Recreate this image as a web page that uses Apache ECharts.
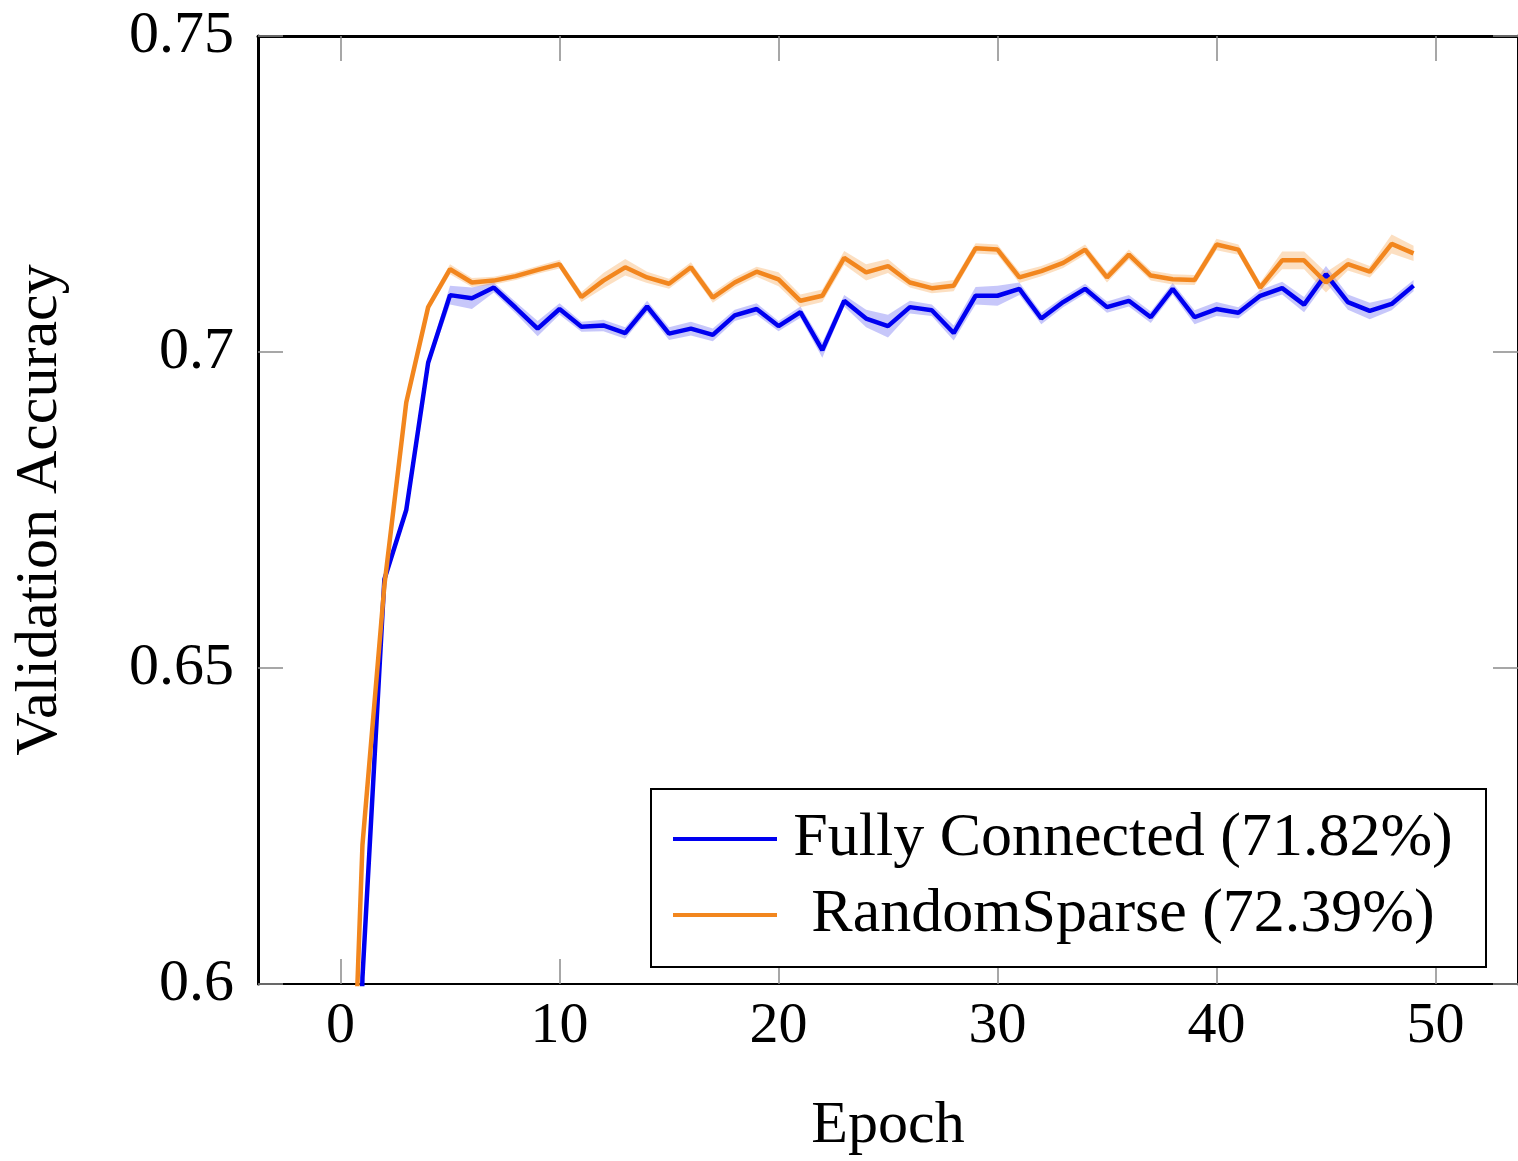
<!DOCTYPE html>
<html>
<head>
<meta charset="utf-8">
<script src="https://cdn.jsdelivr.net/npm/echarts@6/dist/echarts.min.js"></script>
<style>
html,body{margin:0;padding:0;background:#fff;}
#chart{width:1518px;height:1161px;}
</style>
</head>
<body>
<div id="chart"></div>
<script>
var epochs = [0,1,2,3,4,5,6,7,8,9,10,11,12,13,14,15,16,17,18,19,20,21,22,23,24,25,26,27,28,29,30,31,32,33,34,35,36,37,38,39,40,41,42,43,44,45,46,47,48,49];
var fullyConnected = [0.45,0.601,0.664,0.675,0.6983,0.709,0.7085,0.7102,0.7070,0.7037,0.7068,0.7040,0.7042,0.7030,0.7072,0.7029,0.7037,0.7027,0.7058,0.7068,0.7041,0.7063,0.7003,0.7081,0.7053,0.7041,0.7071,0.7066,0.7030,0.7089,0.7089,0.7100,0.7053,0.7079,0.7100,0.7071,0.7081,0.7055,0.7100,0.7055,0.7068,0.7062,0.7089,0.7101,0.7075,0.7123,0.7079,0.7065,0.7076,0.7105];
var fullyConnectedStd = [0.001,0.001,0.001,0.0008,0.0008,0.0015,0.0017,0.0008,0.0009,0.0012,0.0009,0.0008,0.0009,0.0009,0.0009,0.0010,0.0011,0.0010,0.0009,0.0009,0.0008,0.0009,0.0012,0.0009,0.0014,0.0018,0.0010,0.0009,0.0012,0.0014,0.0016,0.0010,0.0009,0.0008,0.0008,0.0009,0.0009,0.0009,0.0009,0.0011,0.0011,0.0009,0.0009,0.0010,0.0012,0.0013,0.0012,0.0013,0.0010,0.0009];
var randomSparse = [0.526,0.622,0.663,0.692,0.7071,0.7131,0.7110,0.7113,0.7120,0.7130,0.7139,0.7087,0.7113,0.7134,0.7118,0.7108,0.7134,0.7086,0.7110,0.7127,0.7115,0.7081,0.7089,0.7149,0.7126,0.7136,0.7110,0.7101,0.7105,0.7164,0.7162,0.7118,0.7128,0.7141,0.7162,0.7118,0.7154,0.7121,0.7115,0.7114,0.7170,0.7162,0.7102,0.7145,0.7145,0.7110,0.7139,0.7127,0.7171,0.7156];
var randomSparseStd = [0.0008,0.0008,0.0008,0.0007,0.0007,0.0008,0.0007,0.0006,0.0006,0.0006,0.0007,0.0008,0.0012,0.0013,0.0009,0.0008,0.0008,0.0008,0.0008,0.0008,0.0011,0.0010,0.0010,0.0011,0.0013,0.0011,0.0008,0.0008,0.0009,0.0008,0.0008,0.0009,0.0008,0.0008,0.0008,0.0008,0.0008,0.0008,0.0008,0.0008,0.0009,0.0008,0.0008,0.0014,0.0014,0.0016,0.0010,0.0009,0.0015,0.0012];
var seriesNames = ['Fully Connected (71.82%)', 'RandomSparse (72.39%)'];
var xTicks = [0,10,20,30,40,50];
var yTicks = [0.6,0.65,0.7,0.75];
var yTickLabels = ['0.6','0.65','0.7','0.75'];

var FONT = 'Liberation Serif';
var BLUE = '#0000f0';
var ORANGE = '#f2861e';

function pairs(vals){ return epochs.map(function(e,i){ return [e, vals[i]]; }); }

function band(vals, sd, color){
  return {
    type:'custom', xAxisIndex:0, yAxisIndex:0, data:pairs(vals), silent:true, z:1, clip:true,
    renderItem:function(params, api){
      if (params.dataIndex !== 0) return;
      var pts = [];
      for (var i = 0; i < epochs.length; i++) pts.push(api.coord([epochs[i], vals[i] + sd[i]]));
      for (var j = epochs.length - 1; j >= 0; j--) pts.push(api.coord([epochs[j], vals[j] - sd[j]]));
      var cs = params.coordSys;
      return {
        type:'polygon', shape:{points:pts}, style:{fill:color},
        clipPath:{type:'rect', shape:{x:cs.x, y:cs.y, width:cs.width, height:cs.height}}
      };
    }
  };
}

var tickStyle = {show:true, inside:true, length:25, lineStyle:{color:'#8a8a8a', width:1.5}};

var chart = echarts.init(document.getElementById('chart'), null, {renderer:'canvas'});
var option = {
  backgroundColor:'#fff',
  animation:false,
  grid:{left:258, top:36, width:1265, height:958, containLabel:false},
  xAxis:[
    {type:'value', position:'bottom', min:-3.77, max:53.77,
     axisLine:{show:true, onZero:false, lineStyle:{color:'#000', width:2}},
     axisTick:Object.assign({customValues:xTicks}, tickStyle),
     axisLabel:{customValues:xTicks, margin:14, fontFamily:FONT, fontSize:58, color:'#000'},
     splitLine:{show:false},
     name:'Epoch', nameLocation:'middle', nameGap:112,
     nameTextStyle:{fontFamily:FONT, fontSize:60, color:'#000'}},
    {type:'value', position:'top', min:-3.77, max:53.77,
     axisLine:{show:true, onZero:false, lineStyle:{color:'#000', width:3}},
     axisTick:Object.assign({customValues:xTicks}, tickStyle),
     axisLabel:{show:false}, splitLine:{show:false}}
  ],
  yAxis:[
    {type:'value', position:'left', min:0.6, max:0.75,
     axisLine:{show:true, onZero:false, lineStyle:{color:'#000', width:3}},
     axisTick:Object.assign({customValues:yTicks}, tickStyle),
     axisLabel:{customValues:yTicks, margin:24, fontFamily:FONT, fontSize:60, color:'#000',
       formatter:function(v){ var i = yTicks.findIndex(function(t){return Math.abs(t-v)<1e-6;}); return i>=0 ? yTickLabels[i] : ''; }},
     splitLine:{show:false},
     name:'Validation Accuracy', nameLocation:'middle', nameGap:188, nameRotate:90,
     nameTextStyle:{fontFamily:FONT, fontSize:60, color:'#000'}},
    {type:'value', position:'right', min:0.6, max:0.75,
     axisLine:{show:true, onZero:false, lineStyle:{color:'#000', width:3}},
     axisTick:Object.assign({customValues:yTicks}, tickStyle),
     axisLabel:{show:false}, splitLine:{show:false}}
  ],
  legend:{
    data:seriesNames, left:651, top:789, orient:'vertical', selectedMode:false,
    backgroundColor:'#fff', borderColor:'#000', borderWidth:2, borderRadius:0,
    padding:[19,22,21,22], itemGap:14, itemWidth:104, itemHeight:4, itemTextGap:10,
    icon:'rect',
    formatter:function(n){ return '{n|' + n + '}'; },
    textStyle:{fontFamily:FONT, fontSize:62, color:'#000', lineHeight:60,
      rich:{n:{fontFamily:FONT, fontSize:62, color:'#000', width:682, align:'center', lineHeight:60}}}
  },
  series: [
    band(fullyConnected, fullyConnectedStd, 'rgba(70,70,240,0.3)'),
    band(randomSparse, randomSparseStd, 'rgba(245,150,50,0.3)'),
    {name:seriesNames[0], type:'line', data:pairs(fullyConnected), symbol:'none',
     lineStyle:{color:BLUE, width:4.5}, itemStyle:{color:BLUE}, z:3},
    {name:seriesNames[1], type:'line', data:pairs(randomSparse), symbol:'none',
     lineStyle:{color:ORANGE, width:4.5}, itemStyle:{color:ORANGE}, z:4}
  ]
};
chart.setOption(option);
</script>
</body>
</html>
